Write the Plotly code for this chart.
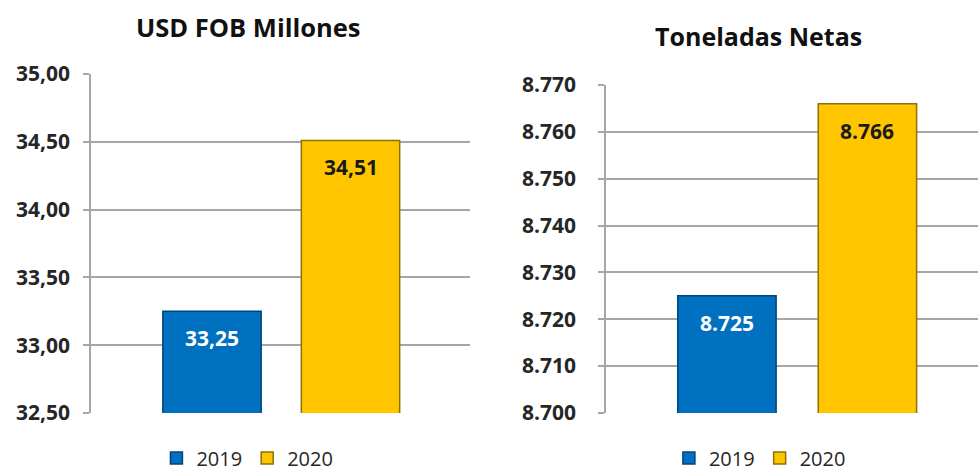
import plotly.graph_objects as go

years = ["2019", "2020"]
usd_values = [33.25, 34.51]
ton_values = [8725, 8766]
colors = ["#0070C0", "#FFC600"]
edge_colors = ["#00457a", "#8f7000"]
label_colors = ["white", "#1a1a1a"]
titles = ["USD FOB Millones", "Toneladas Netas"]

FONT = "Open Sans"
fig = go.Figure()

for i, y in enumerate(years):
    fig.add_trace(go.Bar(x=[y], y=[usd_values[i]], name=y, width=0.71,
                         marker=dict(color=colors[i], line=dict(color=edge_colors[i], width=1.5)),
                         xaxis="x", yaxis="y", legend="legend", hoverinfo="skip"))
    fig.add_trace(go.Bar(x=[y], y=[ton_values[i]], name=y, width=0.70,
                         marker=dict(color=colors[i], line=dict(color=edge_colors[i], width=1.5)),
                         xaxis="x2", yaxis="y2", legend="legend2", hoverinfo="skip"))

annots = []
for i, y in enumerate(years):
    annots.append(dict(x=i, y=usd_values[i], xref="x", yref="y",
                       text="<b>" + f"{usd_values[i]:.2f}".replace(".", ",") + "</b>",
                       showarrow=False, yshift=-27, yanchor="middle",
                       font=dict(family=FONT, size=21, color=label_colors[i])))
    annots.append(dict(x=i, y=ton_values[i], xref="x2", yref="y2",
                       text="<b>" + f"{ton_values[i]:,}".replace(",", ".") + "</b>",
                       showarrow=False, yshift=-27, yanchor="middle",
                       font=dict(family=FONT, size=21, color=label_colors[i])))

annots.append(dict(x=0.2536, y=0.9378, xref="paper", yref="paper", text="<b>" + titles[0] + "</b>",
                   showarrow=False, xanchor="center", yanchor="middle",
                   font=dict(family=FONT, size=25.5, color="#111")))
annots.append(dict(x=0.776, y=0.9171, xref="paper", yref="paper", text="<b>" + titles[1] + "</b>",
                   showarrow=False, xanchor="center", yanchor="middle",
                   font=dict(family=FONT, size=25, color="#111")))

axis_common = dict(showgrid=True, gridcolor="#a6a6a6", gridwidth=1.5, showline=True,
                   linecolor="#a6a6a6", linewidth=1.5, ticks="outside", ticklen=6,
                   tickcolor="#a6a6a6", tickwidth=1.5,
                   tickfont=dict(family=FONT, size=21, color="#262626", weight="bold"),
                   zeroline=False, automargin=False)

legend_common = dict(orientation="h", yanchor="middle", xanchor="center",
                     xref="container", yref="container",
                     font=dict(family=FONT, size=20, color="#262626"),
                     bgcolor="rgba(0,0,0,0)", itemwidth=30)

fig.update_layout(
    width=978, height=474, margin=dict(l=0, r=0, t=0, b=40),
    paper_bgcolor="white", plot_bgcolor="white",
    separators=",.", barmode="overlay",
    annotations=annots,
    xaxis=dict(domain=[0.093, 0.4806], range=[-0.874, 1.863], showticklabels=False,
               showline=False, showgrid=False, ticks="", type="category", fixedrange=True),
    xaxis2=dict(domain=[0.6196, 1.0], range=[-0.861, 1.787], showticklabels=False,
                showline=False, showgrid=False, ticks="", type="category", fixedrange=True),
    yaxis=dict(domain=[0.0484, 0.8295], range=[32.5, 35.0], dtick=0.5, tickformat=".2f",
               anchor="x", ticklabelstandoff=9, **axis_common),
    yaxis2=dict(domain=[0.0484, 0.8041], range=[8700, 8770], dtick=10, tickformat=",d",
                anchor="x2", ticklabelstandoff=18, **axis_common),
    legend=dict(x=0.253, y=0.034, **legend_common),
    legend2=dict(x=0.777, y=0.034, **legend_common),
)

fig.write_html("out.html")
